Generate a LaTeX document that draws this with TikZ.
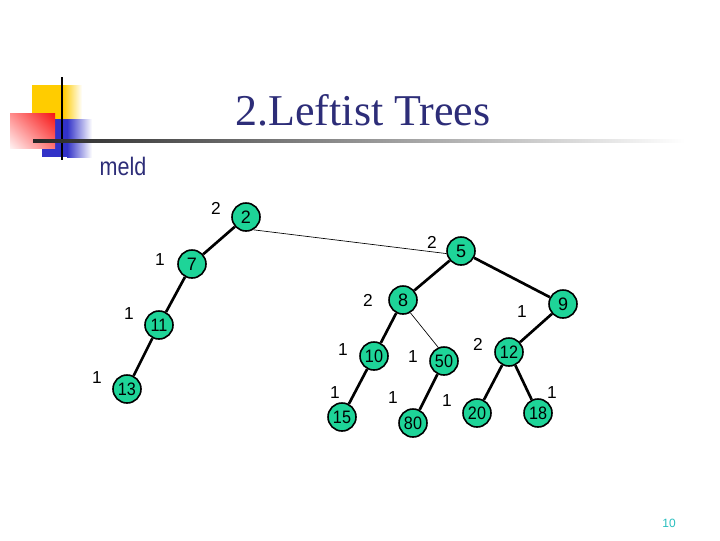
\documentclass[tikz,border=0pt]{standalone}
\usepackage{fontspec}
\setmainfont{Liberation Sans}
\newfontfamily\titlefont{Liberation Serif}
\usepackage{tikz}
\usetikzlibrary{arrows.meta,shapes,positioning,calc,shadings}
\usepackage{xcolor}
\definecolor{navy}{RGB}{45,45,120}
\definecolor{mint}{RGB}{30,212,152}
\definecolor{pgnum}{RGB}{40,190,190}
\definecolor{deco yellow}{RGB}{255,204,0}
\definecolor{deco blue}{RGB}{50,50,200}
\definecolor{deco red}{RGB}{245,20,20}

\tikzset{
  heap/.style={circle, draw=black, line width=1.2pt, fill=mint, minimum size=21pt,
    inner sep=0pt, font=\fontsize{13.5}{13.5}\selectfont},
  rank/.style={font=\fontsize{13}{13}\selectfont},
  heavy/.style={line width=2pt},
  light/.style={line width=0.5pt}
}

\begin{document}
\begin{tikzpicture}[x=0.75pt,y=-0.75pt]
    \useasboundingbox (0,0) rectangle (720,540);

    % 左上角装饰方块
    \fill[deco yellow] (32,85) rectangle (63,128);
    \shade[left color=deco yellow, right color=white] (63,85) rectangle (82,128);
    \fill[deco blue] (42,119) rectangle (67,157);
    \shade[left color=deco blue, right color=white] (67,119) rectangle (92,157);
    \shade[upper right=deco red, upper left=red!45, lower right=red!55, lower left=red!5]
        (10,113) rectangle (55,148);
    \draw[line width=1.6pt] (62,77) -- (62,160);
    \shade[left color=black!85, right color=white] (33,139.5) rectangle (685,142.5);

    % 标题
    \node[navy, font=\titlefont\fontsize{33}{33}\selectfont] (title) at (363,110) {2.Leftist Trees};
    \node[navy, font=\fontsize{19}{19}\selectfont] (meld) at (123,166) {\scalebox{0.85}[1]{meld}};

    % 树节点
    \node[heap] (n2) at (246,217) {2};
    \node[heap] (n7) at (192,264) {7};
    \node[heap] (n11) at (159,325) {\scalebox{0.9}[1]{11}};
    \node[heap] (n13) at (127,389) {\scalebox{0.9}[1]{13}};
    \node[heap] (n5) at (461,251) {5};
    \node[heap] (n8) at (403,300) {8};
    \node[heap] (n10) at (374,356) {\scalebox{0.9}[1]{10}};
    \node[heap] (n50) at (444,361) {\scalebox{0.9}[1]{50}};
    \node[heap] (n15) at (342,417) {\scalebox{0.9}[1]{15}};
    \node[heap] (n80) at (413,423) {\scalebox{0.9}[1]{80}};
    \node[heap] (n9) at (563,304) {9};
    \node[heap] (n12) at (509,352) {\scalebox{0.9}[1]{12}};
    \node[heap] (n20) at (477,413) {\scalebox{0.9}[1]{20}};
    \node[heap] (n18) at (538,413) {\scalebox{0.9}[1]{18}};

    % 边
    \draw[heavy] (n2) -- (n7);
    \draw[heavy] (n7) -- (n11);
    \draw[heavy] (n11) -- (n13);
    \draw[light] (n2.-60) -- (n5.190);
    \draw[heavy] (n5) -- (n8);
    \draw[heavy] (n5) -- (n9);
    \draw[heavy] (n8) -- (n10);
    \draw[light] (n8.-60) -- (n50.113);
    \draw[heavy] (n10) -- (n15);
    \draw[heavy] (n50) -- (n80);
    \draw[heavy] (n9) -- (n12);
    \draw[heavy] (n12) -- (n20);
    \draw[heavy] (n12) -- (n18);

    % s 值标注
    \node[rank] (r2) at (216,208) {2};
    \node[rank] (r7) at (160,260) {1};
    \node[rank] (r11) at (129,314) {1};
    \node[rank] (r13) at (97,378) {1};
    \node[rank] (r5) at (432,242) {2};
    \node[rank] (r8) at (368,300) {2};
    \node[rank] (r10) at (343,350) {1};
    \node[rank] (r15) at (335,393) {1};
    \node[rank] (r50) at (413,357) {1};
    \node[rank] (r80) at (393,398) {1};
    \node[rank] (r20) at (447,401) {1};
    \node[rank] (r9) at (522,312) {1};
    \node[rank] (r12) at (478,344) {2};
    \node[rank] (r18) at (552,393) {1};

    % 页码
    \node[pgnum, font=\fontsize{9}{9}\selectfont] (page) at (669,523) {10};
\end{tikzpicture}
\end{document}
